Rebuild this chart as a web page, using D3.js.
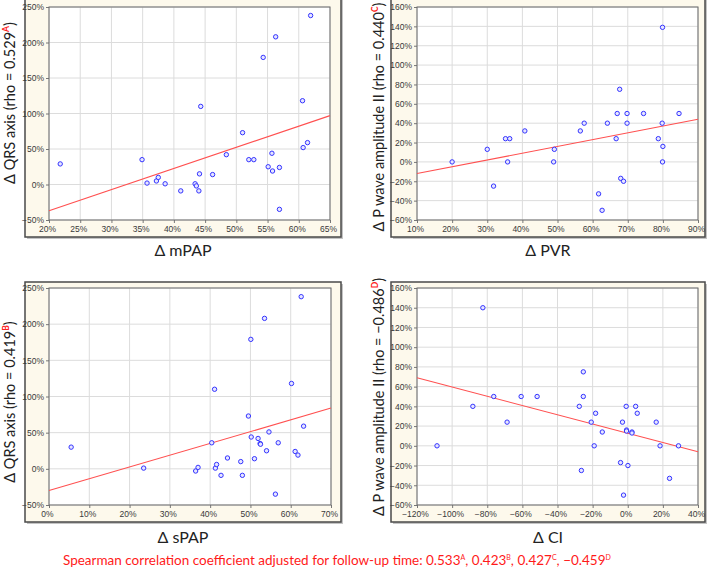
<!DOCTYPE html>
<html><head><meta charset="utf-8">
<script src="https://cdn.jsdelivr.net/npm/d3@7"></script>
<style>
html,body{margin:0;padding:0;background:#fff;}
svg{display:block;}
</style></head>
<body>
<svg id="chart" width="709" height="570"></svg>
<script>
// ---- Data ----
// Panel A: Δ mPAP vs Δ QRS axis
const mpapX = [21.8,34.9,35.7,37.2,37.5,38.6,41.1,43.4,43.6,44.0,44.1,44.3,46.2,48.4,51.0,52.0,52.8,54.3,55.1,55.7,55.8,56.3,56.9,56.9,60.6,60.7,61.4,61.9];
const qrsA  = [29,35,2,5,10,1,-9,1,-2,-9,15,110,14,42,73,35,35,179,25,44,19,208,24,-35,118,52,59,238];
const fitA_X = [20,65], fitA_Y = [-37,97];
// Panel C: Δ PVR vs Δ P wave amplitude II
const pvrX = [20,30,31.8,35.2,36.4,35.8,40.7,49.1,48.9,56.5,57.6,61.7,62.7,64.2,66.7,67.0,67.7,68.0,68.8,69.8,69.8,74.5,78.7,79.8,79.9,80.0,79.9,84.6];
const pwC  = [0,13,-25,24,24,0,32,13,0,32,40,-33,-50,40,24,50,75,-17,-20,50,40,50,24,40,139,16,0,50];
const fitC_X = [10,90], fitC_Y = [-12,44];
// Panel B: Δ sPAP vs Δ QRS axis
const spapX = [5.5,23.5,36.4,37.0,40.4,41.1,41.3,41.6,42.7,44.3,47.6,48.0,49.5,50.1,50.2,51.0,51.9,52.4,52.5,53.5,54.0,54.6,56.2,56.9,60.2,61.1,61.8,62.6,63.2];
const qrsB  = [30,1,-3,2,36,110,1,6,-9,15,10,-9,73,179,44,14,42,35,34,208,25,51,-35,36,118,24,19,238,59];
const fitB_X = [0,70], fitB_Y = [-30,84];
// Panel D: Δ CI vs Δ P wave amplitude II
const ciX = [-108.6,-88.2,-82.5,-76.3,-68.7,-60.7,-51.6,-27.6,-26.4,-25.3,-25.3,-20.8,-19.1,-18.3,-14.5,-4.1,-3.0,-2.4,-0.9,-0.7,-0.7,0.1,2.4,2.4,4.5,5.4,16.2,18.4,23.8,28.9];
const pwD = [0,40,140,50,24,50,50,40,-25,75,50,24,0,33,14,-17,24,-50,40,16,15,-20,14,13,40,33,24,0,-33,0];
const fitD_X = [-120,40], fitD_Y = [69,-6];

// Tick values
const ticksMpap = [20,25,30,35,40,45,50,55,60,65];
const ticksPvr  = [10,20,30,40,50,60,70,80,90];
const ticksSpap = [0,10,20,30,40,50,60,70];
const ticksCi   = [-120,-100,-80,-60,-40,-20,0,20,40];
const ticksQrs  = [-50,0,50,100,150,200,250];
const ticksPw   = [-60,-40,-20,0,20,40,60,80,100,120,140,160];

// Titles
const xTitles = ["Δ mPAP","Δ PVR","Δ sPAP","Δ CI"];
const yTitleMain = ["Δ QRS axis (rho = 0.529","Δ P wave amplitude II (rho = 0.440","Δ QRS axis (rho = 0.419","Δ P wave amplitude II (rho = \u22120.486"];
const yTitleSup = ["A","C","B","D"];
const footMain = "Spearman correlation coefficient adjusted for follow-up time:  ";
const footVals = ["0.533","0.423","0.427","\u22120.459"];
const footSups = ["A","B","C","D"];

// ---- Layout ----
const panels = [
  {x:mpapX, y:qrsA, fx:fitA_X, fy:fitA_Y, xd:[20,65], yd:[-50,250], xt:ticksMpap, yt:ticksQrs,
   frame:[25,-3,341,237], plot:[49,7,330,220], xtitleY:256, ytitle:[15,103]},
  {x:pvrX, y:pwC, fx:fitC_X, fy:fitC_Y, xd:[10,90], yd:[-60,160], xt:ticksPvr, yt:ticksPw,
   frame:[391,-3,705,237], plot:[417,7,698,220], xtitleY:256, ytitle:[384,117]},
  {x:spapX, y:qrsB, fx:fitB_X, fy:fitB_Y, xd:[0,70], yd:[-50,250], xt:ticksSpap, yt:ticksQrs,
   frame:[25,282,341,522], plot:[49,288,331,505], xtitleY:543, ytitle:[15,402]},
  {x:ciX, y:pwD, fx:fitD_X, fy:fitD_Y, xd:[-120,40], yd:[-60,160], xt:ticksCi, yt:ticksPw,
   frame:[391,282,705,522], plot:[417,288,698,505], xtitleY:543, ytitle:[384,397]}
];

const svg = d3.select("#chart");
const fmt = d => (d < 0 ? "\u2212" + Math.abs(d) : d) + "%";
const tickFont = "'Liberation Sans Narrow', 'Arial Narrow', 'Liberation Sans', sans-serif";
const titleFont = "Lato, 'Open Sans', sans-serif";

panels.forEach((p, i) => {
  const g = svg.append("g");
  const [fx0, fy0, fx1, fy1] = p.frame;
  // shadow + frame
  g.append("rect").attr("x", fx0 + 2).attr("y", fy0 + 2).attr("width", fx1 - fx0).attr("height", fy1 - fy0)
    .attr("fill", "#c4c4c4");
  g.append("rect").attr("x", fx0).attr("y", fy0).attr("width", fx1 - fx0).attr("height", fy1 - fy0)
    .attr("fill", "#fdf9ec").attr("stroke", "#4a4a4a").attr("stroke-width", 1.5);
  const [px0, py0, px1, py1] = p.plot;
  g.append("rect").attr("x", px0).attr("y", py0).attr("width", px1 - px0).attr("height", py1 - py0)
    .attr("fill", "#ffffff");

  const xs = d3.scaleLinear().domain(p.xd).range([px0, px1]);
  const ys = d3.scaleLinear().domain(p.yd).range([py1, py0]);

  // grid
  g.append("g").selectAll("line").data(p.xt).join("line")
    .attr("x1", d => xs(d)).attr("x2", d => xs(d)).attr("y1", py0).attr("y2", py1)
    .attr("stroke", "#dcdcdc").attr("stroke-width", 1);
  g.append("g").selectAll("line").data(p.yt).join("line")
    .attr("x1", px0).attr("x2", px1).attr("y1", d => ys(d)).attr("y2", d => ys(d))
    .attr("stroke", "#dcdcdc").attr("stroke-width", 1);

  // axes
  const xa = g.append("g").attr("transform", `translate(0,${py1})`)
    .call(d3.axisBottom(xs).tickValues(p.xt).tickFormat(fmt).tickSize(3).tickSizeOuter(0));
  const ya = g.append("g").attr("transform", `translate(${px0},0)`)
    .call(d3.axisLeft(ys).tickValues(p.yt).tickFormat(fmt).tickSize(3).tickSizeOuter(0));
  [xa, ya].forEach(a => {
    a.select(".domain").remove();
    a.selectAll(".tick line").attr("stroke", "#777");
    a.selectAll("text").attr("font-family", tickFont).attr("font-size", 8.5).attr("fill", "#3a3a3a");
  });
  xa.selectAll("text").attr("dy", null).attr("y", 12).attr("dx", -2);
  ya.selectAll("text").attr("x", -5);
  // plot border
  g.append("rect").attr("x", px0).attr("y", py0).attr("width", px1 - px0).attr("height", py1 - py0)
    .attr("fill", "none").attr("stroke", "#6a6a6a").attr("stroke-width", 1);

  // regression line
  const fitPts = p.fx.map((v, k) => [v, p.fy[k]]);
  g.append("path").datum(fitPts)
    .attr("d", d3.line().x(d => xs(d[0])).y(d => ys(d[1])))
    .attr("fill", "none").attr("stroke", "#ff5050").attr("stroke-width", 1.1);

  // points
  const pts = p.x.map((v, k) => [v, p.y[k]]);
  g.append("g").selectAll("circle").data(pts).join("circle")
    .attr("cx", d => xs(d[0])).attr("cy", d => ys(d[1])).attr("r", 2.2)
    .attr("fill", "#e6e6ff").attr("stroke", "#3434ff").attr("stroke-width", 1);

  // x title
  g.append("text").attr("x", (fx0 + fx1) / 2).attr("y", p.xtitleY)
    .attr("text-anchor", "middle").attr("font-family", titleFont).attr("font-size", 16).attr("fill", "#222")
    .text(xTitles[i]);
  // y title
  const yt = g.append("text")
    .attr("transform", `translate(${p.ytitle[0]},${p.ytitle[1]}) rotate(-90)`)
    .attr("text-anchor", "middle").attr("font-family", titleFont).attr("font-size", 14.5).attr("fill", "#222");
  yt.append("tspan").text(yTitleMain[i]);
  yt.append("tspan").text(yTitleSup[i]).attr("font-size", 8.5).attr("dy", -6).attr("fill", "#ff2020").attr("font-weight", "bold");
  yt.append("tspan").text(")").attr("dy", 6);
});

// footnote
const foot = svg.append("text").attr("x", 63).attr("y", 565)
  .attr("font-family", titleFont).attr("font-size", 13.5).attr("fill", "#ff1a1a");
foot.append("tspan").text(footMain);
footVals.forEach((v, k) => {
  foot.append("tspan").text(v);
  foot.append("tspan").text(footSups[k]).attr("font-size", 7).attr("dy", -5);
  foot.append("tspan").text(k < footVals.length - 1 ? ", " : "").attr("dy", 5);
});
</script>
</body></html>
